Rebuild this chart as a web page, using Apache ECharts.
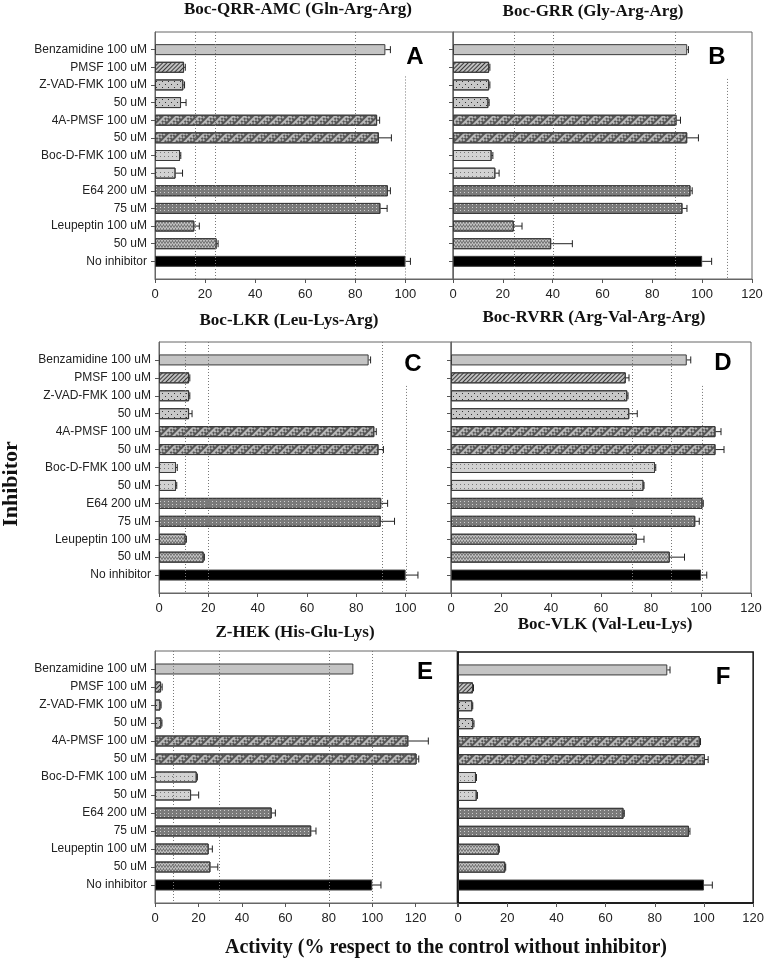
<!DOCTYPE html>
<html><head><meta charset="utf-8">
<script src="https://cdn.jsdelivr.net/npm/echarts@6/dist/echarts.min.js"></script>
<style>html,body{margin:0;padding:0;background:#fff}#c{width:767px;height:962px}</style>
</head><body><div id="c"></div>
<script>
// ---------- DATA ----------
const inhibitors = ['Benzamidine 100 uM','PMSF 100 uM','Z-VAD-FMK 100 uM','50 uM','4A-PMSF 100 uM','50 uM','Boc-D-FMK 100 uM','50 uM','E64 200 uM','75 uM','Leupeptin 100 uM','50 uM','No inhibitor'];
const panelTitles = ['Boc-QRR-AMC (Gln-Arg-Arg)','Boc-GRR (Gly-Arg-Arg)','Boc-LKR (Leu-Lys-Arg)','Boc-RVRR (Arg-Val-Arg-Arg)','Z-HEK (His-Glu-Lys)','Boc-VLK (Val-Leu-Lys)'];
const panelLetters = ['A','B','C','D','E','F'];
const yTitle = 'Inhibitor';
const xTitle = 'Activity (% respect to the control without inhibitor)';
const xTickStep = 20;

const valuesA = [92, 11.6, 11.3, 10.4, 88.7, 89.4, 10, 8.2, 93, 90, 15.7, 24.6, 100];
const errA    = [2, 0.5, 0.5, 2, 1, 5, 0.3, 2.8, 1, 2.7, 2, 0.6, 2];
const valuesB = [94, 14.5, 14.5, 14.2, 89.7, 94, 15.5, 17, 95.3, 92.1, 24.4, 39.4, 100];
const errB    = [0.5, 0.3, 0.3, 0.3, 1.6, 4.5, 0.5, 1.5, 0.7, 1.8, 3.3, 8.5, 3.8];
const valuesC = [85, 12.2, 12.2, 12.2, 87.3, 89, 6.9, 6.9, 90.1, 89.9, 10.8, 18.1, 100];
const errC    = [0.8, 0.3, 0.3, 1.2, 0.8, 2, 0.5, 0.3, 2.6, 5.6, 0.3, 0.3, 5];
const valuesD = [94.3, 69.9, 70.5, 71.3, 105.8, 105.8, 81.6, 77, 100.6, 97.7, 74.3, 87.5, 100];
const errD    = [1.6, 1.3, 0.3, 3.2, 2.2, 3.4, 0.3, 0.2, 0.3, 1.6, 2.9, 5.9, 2.3];
const valuesE = [91.3, 2.8, 2.5, 2.9, 116.6, 120.4, 19.2, 16.6, 53.7, 71.9, 24.7, 25.5, 100];
const errE    = [0, 0.5, 0.3, 0.3, 9.2, 1, 0.3, 3.5, 1.7, 2.2, 1.7, 3.4, 4];
const valuesF = [85.1, 6.1, 5.8, 6.2, 98.3, 100.4, 7.3, 7.6, 67.3, 93.9, 16.6, 19.2, 100];
const errF    = [1.1, 0.2, 0.2, 0.3, 0.3, 1.3, 0.2, 0.3, 0.3, 0.4, 0.2, 0.2, 3.4];

// dotted reference lines (x value) and where they start (fraction of plot height from top)
const refA = [16, 24, 80, 100];      const refStartA = [0, 0, 0, 0.18];
const refB = [24.5, 40, 89, 110];    const refStartB = [0, 0, 0, 0.19];
const refC = [10.5, 20, 90.5, 100];  const refStartC = [0, 0, 0, 0.175];
const refD = [72.4, 88, 100.5];      const refStartD = [0, 0, 0.175];
const refE = [8.4, 29.4, 80, 100];   const refStartE = [0, 0, 0, 0];
const refF = [];                     const refStartF = [];

// ---------- STYLES / LAYOUT ----------
const panels = [
  {vals: valuesA, errs: errA, refs: refA, refStart: refStartA, left:155, top:32, width:298, height:247, max:119, labelMax:100, showY:true, yTick:true, border:'#666', bw:1,
   title:[298,10], letter:[415,57]},
  {vals: valuesB, errs: errB, refs: refB, refStart: refStartB, left:453, top:32, width:299, height:247, max:120, labelMax:120, showY:false, yTick:true, border:'#666', bw:1,
   title:[593,12], letter:[717,57]},
  {vals: valuesC, errs: errC, refs: refC, refStart: refStartC, left:159, top:342, width:292, height:251, max:118.4, labelMax:100, showY:true, yTick:true, border:'#666', bw:1,
   title:[289,321], letter:[413,364]},
  {vals: valuesD, errs: errD, refs: refD, refStart: refStartD, left:451, top:342, width:300, height:251, max:120, labelMax:120, showY:false, yTick:true, border:'#666', bw:1,
   title:[594,318], letter:[723,363]},
  {vals: valuesE, errs: errE, refs: refE, refStart: refStartE, left:155, top:651, width:302, height:252, max:139, labelMax:120, showY:true, yTick:true, border:'#666', bw:1,
   title:[295,633], letter:[425,672]},
  {vals: valuesF, errs: errF, refs: refF, refStart: refStartF, left:458, top:652, width:296, height:251, max:120, labelMax:120, showY:false, yTick:false, border:'#111', bw:1.5,
   title:[605,625], letter:[723,677]}
];

const zig = 'path://M0,3L1.5,0L3,3L4.5,0L6,3L6,4L4.5,1L3,4L1.5,1L0,4Z';
const barStyles = [
  {color:'#c4c4c4'},
  {color:'#c0c0c0', decal:{symbol:'rect', symbolSize:1, dashArrayX:[1,0], dashArrayY:[1,2], rotation:-Math.PI/4, color:'#3a3a3a'}},
  {color:'#c8c8c8', decal:{symbol:'rect', symbolSize:1, dashArrayX:[[1,5],[0,3,1,2]], dashArrayY:[1,2], color:'#333'}},
  {color:'#c8c8c8', decal:{symbol:'rect', symbolSize:1, dashArrayX:[[1,5],[0,3,1,2]], dashArrayY:[1,2], color:'#333'}},
  {color:'#b8b8b8', decal:{symbol:'rect', symbolSize:1, dashArrayX:[[2,2],[0,2,2]], dashArrayY:[2,0], rotation:Math.PI/4, color:'#555'}},
  {color:'#b8b8b8', decal:{symbol:'rect', symbolSize:1, dashArrayX:[[2,2],[0,2,2]], dashArrayY:[2,0], rotation:Math.PI/4, color:'#555'}},
  {color:'#d2d2d2', decal:{symbol:'rect', symbolSize:1, dashArrayX:[1,3], dashArrayY:[1,3], color:'#777'}},
  {color:'#d2d2d2', decal:{symbol:'rect', symbolSize:1, dashArrayX:[1,3], dashArrayY:[1,3], color:'#777'}},
  {color:'#7a7a7a', decal:{symbol:'rect', symbolSize:1, dashArrayX:[1,3], dashArrayY:[1,2], color:'#d0d0d0'}},
  {color:'#7a7a7a', decal:{symbol:'rect', symbolSize:1, dashArrayX:[1,3], dashArrayY:[1,2], color:'#d0d0d0'}},
  {color:'#c0c0c0', decal:{symbol:zig, symbolSize:1, dashArrayX:[6,0], dashArrayY:[4,0], color:'#333'}},
  {color:'#c0c0c0', decal:{symbol:zig, symbolSize:1, dashArrayX:[6,0], dashArrayY:[4,0], color:'#333'}},
  {color:'#000000'}
];

const catLabels = [''].concat(inhibitors).concat(['']);
const catKeys = catLabels.map((_, i) => String(i));

const grid = [], xAxis = [], yAxis = [], series = [], graphic = [];
const labelFont = '"Liberation Sans", Arial, sans-serif';
const serif = '"Liberation Serif", "Times New Roman", serif';

panels.forEach((p, i) => {
  grid.push({left:p.left, top:p.top, width:p.width, height:p.height, show:true, borderColor:p.border, borderWidth:p.bw, backgroundColor:'transparent'});
  xAxis.push({
    gridIndex:i, type:'value', min:0, max:p.max, interval:xTickStep,
    splitLine:{show:false},
    axisLine:{show:true, lineStyle:{color:p.border, width:p.bw}},
    axisTick:{show:true, length:4, lineStyle:{color:'#555'}},
    axisLabel:{margin:9, fontSize:13, color:'#222', fontFamily:labelFont,
      formatter:(v) => (v % xTickStep === 0 && v <= p.labelMax) ? String(v) : ''}
  });
  yAxis.push({
    gridIndex:i, type:'category', inverse:true, boundaryGap:false, data:catKeys,
    axisLine:{show:true, lineStyle:{color:p.border, width:p.bw}},
    axisTick:{show:p.yTick, length:4, interval:(idx) => idx > 0 && idx < catKeys.length - 1, lineStyle:{color:'#555'}},
    axisLabel:{show:p.showY, interval:0, margin:8, fontSize:12, color:'#222', fontFamily:labelFont,
      formatter:(v) => catLabels[+v]}
  });
  series.push({
    type:'bar', xAxisIndex:i, yAxisIndex:i, barWidth:11, z:2,
    data:p.vals.map((v, k) => ({value:[v, k + 1], itemStyle:Object.assign({borderColor:'#3a3a3a', borderWidth:1}, barStyles[k])})),
    animation:false
  });
  series.push({
    type:'custom', xAxisIndex:i, yAxisIndex:i, z:3, animation:false, silent:true,
    encode:{x:0, y:1},
    data:p.refs.map((r, k) => [r, 1, p.refStart[k]]),
    renderItem:(params, api) => {
      const cs = params.coordSys;
      const x = Math.round(api.coord([api.value(0), 1])[0]) + 0.5;
      const y0 = cs.y + api.value(2) * cs.height;
      return {type:'line', shape:{x1:x, y1:y0, x2:x, y2:cs.y + cs.height},
        style:{stroke:'#777', lineWidth:1, lineDash:[1, 2]}};
    }
  });
  series.push({
    type:'custom', xAxisIndex:i, yAxisIndex:i, z:4, animation:false, silent:true,
    encode:{x:0, y:1},
    data:p.errs.map((e, k) => [p.vals[k], k + 1, e]),
    renderItem:(params, api) => {
      const v = api.value(0), y = api.value(1), e = api.value(2);
      if (!(e > 0)) return null;
      const p0 = api.coord([v, y]), p1 = api.coord([v + e, y]);
      const h = 3.5;
      return {type:'group', children:[
        {type:'line', shape:{x1:p0[0], y1:p0[1], x2:p1[0], y2:p1[1]}, style:{stroke:'#222', lineWidth:1}},
        {type:'line', shape:{x1:p1[0], y1:p1[1] - h, x2:p1[0], y2:p1[1] + h}, style:{stroke:'#222', lineWidth:1}}
      ]};
    }
  });
  graphic.push({type:'text', x:p.title[0], y:p.title[1], z:10,
    style:{text:panelTitles[i], font:'bold 17px ' + serif, fill:'#111', align:'center', verticalAlign:'middle'}});
  graphic.push({type:'text', x:p.letter[0], y:p.letter[1], z:10,
    style:{text:panelLetters[i], font:'bold 24px ' + labelFont, fill:'#000', align:'center', verticalAlign:'middle'}});
});

graphic.push({type:'text', x:11, y:484, rotation:Math.PI / 2, z:10,
  style:{text:yTitle, font:'bold 22px ' + serif, fill:'#111', align:'center', verticalAlign:'middle'}});
graphic.push({type:'text', x:446, y:948, z:10,
  style:{text:xTitle, font:'bold 20px ' + serif, fill:'#111', align:'center', verticalAlign:'middle'}});

const chart = echarts.init(document.getElementById('c'), null, {renderer:'canvas'});
chart.setOption({animation:false, backgroundColor:'#fff', grid, xAxis, yAxis, series, graphic});
</script>
</body></html>
